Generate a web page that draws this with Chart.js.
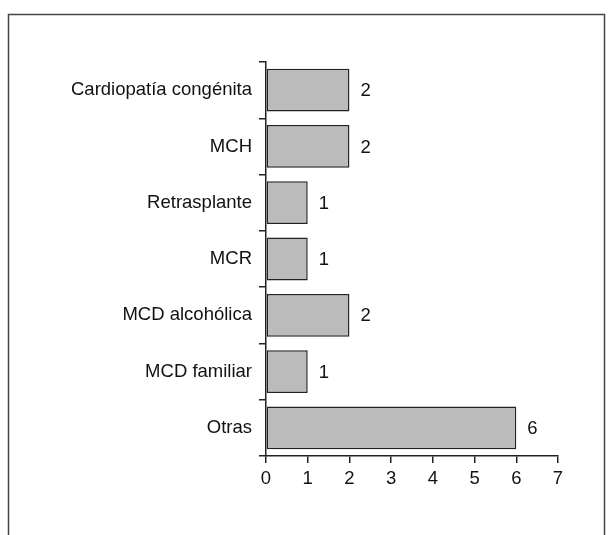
<!DOCTYPE html>
<html>
<head>
<meta charset="utf-8">
<script src="https://cdn.jsdelivr.net/npm/chart.js@4"></script>
<style>
  body { margin: 0; background: #fff; }
</style>
</head>
<body>
<canvas id="myChart" width="614" height="535"></canvas>
<script>
const ctx = document.getElementById('myChart');

var causas = ["Cardiopatía congénita", "MCH", "Retrasplante", "MCR", "MCD alcohólica", "MCD familiar", "Otras"];
var pacientes = [2, 2, 1, 1, 2, 1, 6];
var xMin = 0;
var xMax = 7;

var fontSpec = { family: "'Liberation Sans', Arial, sans-serif", size: 18.5 };
var lineColor = "#222";

// marco alrededor de la figura y etiquetas de valor al final de cada barra
const extras = {
    id: 'extras',
    beforeDraw: function (chart) {
        const c = chart.ctx;
        c.save();
        c.fillStyle = '#fff';
        c.fillRect(0, 0, chart.width, chart.height);
        c.strokeStyle = '#444';
        c.lineWidth = 1.5;
        c.strokeRect(8.5, 14.5, 596, 600);
        c.restore();
    },
    afterDatasetsDraw: function (chart) {
        const c = chart.ctx;
        const meta = chart.getDatasetMeta(0);
        c.save();
        c.font = fontSpec.size + "px " + fontSpec.family;
        c.fillStyle = "#111";
        c.textAlign = "left";
        c.textBaseline = "middle";
        meta.data.forEach(function (bar, i) {
            c.fillText(String(pacientes[i]), bar.x + 11, bar.y + 1);
        });
        c.restore();
    }
};

const chart = new Chart(ctx, {
    type: 'bar',
    data: {
        labels: causas,
        datasets: [{
            data: pacientes,
            backgroundColor: "#bbbbbb",
            borderColor: lineColor,
            borderWidth: 1.5,
            borderSkipped: false,
            categoryPercentage: 1,
            barPercentage: 0.76
        }]
    },
    options: {
        indexAxis: 'y',
        responsive: false,
        animation: false,
        layout: {
            padding: { top: 62, right: 56, bottom: 0, left: 0 }
        },
        scales: {
            x: {
                min: xMin,
                max: xMax,
                afterFit: function (scale) { scale.height = 79; },
                ticks: {
                    stepSize: 1,
                    color: "#111",
                    font: fontSpec,
                    padding: 5,
                    maxRotation: 0
                },
                grid: {
                    drawOnChartArea: false,
                    tickLength: 7,
                    color: lineColor,
                    lineWidth: 1.5
                },
                border: { color: lineColor, width: 1.5 }
            },
            y: {
                afterFit: function (scale) { scale.width = 266; },
                ticks: {
                    color: "#111",
                    font: fontSpec,
                    padding: 7
                },
                grid: {
                    offset: true,
                    drawOnChartArea: false,
                    tickLength: 7,
                    color: lineColor,
                    lineWidth: 1.5
                },
                border: { color: lineColor, width: 1.5 }
            }
        },
        plugins: {
            legend: { display: false },
            tooltip: { enabled: false }
        }
    },
    plugins: [extras]
});
</script>
</body>
</html>
